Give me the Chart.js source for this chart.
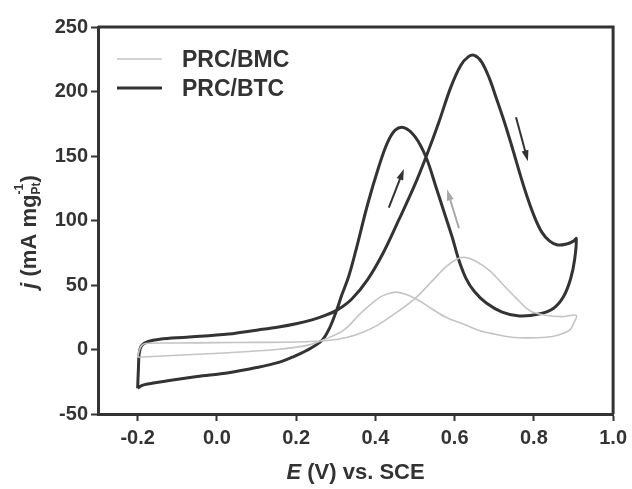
<!DOCTYPE html>
<html>
<head>
<meta charset="utf-8">
<script src="https://cdn.jsdelivr.net/npm/chart.js@4/dist/chart.umd.min.js"></script>
<style>
  html, body { margin: 0; padding: 0; background: #fff; }
  #wrap { width: 632px; height: 489px; position: relative; }
</style>
</head>
<body>
<div id="wrap"><canvas id="cv"></canvas></div>
<script>
(function () {
    "use strict";

    // tick labels
    var xTicks = [-0.2, 0.0, 0.2, 0.4, 0.6, 0.8, 1.0];
    var yTicks = [-50, 0, 50, 100, 150, 200, 250];

    var seriesNames = ["PRC/BMC", "PRC/BTC"];

    // PRC/BMC: forward scan then reverse scan (E in V, j in mA mg-1)
    var bmcE = [-0.2, -0.196, -0.19, -0.18, -0.1, 0.0, 0.1, 0.2, 0.28, 0.33, 0.37, 0.409, 0.45, 0.5, 0.54, 0.578, 0.605, 0.624, 0.65, 0.687, 0.72, 0.755, 0.79, 0.83, 0.87, 0.907,
                0.9, 0.89, 0.86, 0.83, 0.78, 0.745, 0.7, 0.66, 0.62, 0.578, 0.54, 0.51, 0.48, 0.452, 0.43, 0.409, 0.366, 0.32, 0.265, 0.225, 0.15, 0.03, -0.1, -0.2];
    var bmcJ = [-6, -1, 3, 4.7, 5, 5.3, 5.5, 5.8, 7, 9.5, 13.5, 19.5, 28, 39.5, 52, 64, 70, 71.5, 69, 61.5, 51, 40, 30, 26.5, 25.5, 26.5,
                20, 15, 11, 9.5, 9, 9.5, 12, 15, 20, 25, 32, 38, 42.5, 44.5, 43, 40, 29, 15, 7, 3, 0, -2.5, -4.5, -6];

    // PRC/BTC: forward scan then reverse scan
    var btcE = [-0.2, -0.198, -0.196, -0.19, -0.175, -0.144, -0.076, 0.03, 0.1, 0.156, 0.2, 0.24, 0.27, 0.303, 0.34, 0.38, 0.42, 0.46, 0.5, 0.53, 0.56, 0.59, 0.615, 0.635, 0.65, 0.668, 0.688, 0.704, 0.725, 0.745, 0.775, 0.8, 0.82, 0.84, 0.86, 0.885, 0.9, 0.907,
                0.903, 0.893, 0.875, 0.85, 0.813, 0.763, 0.72, 0.68, 0.65, 0.629, 0.61, 0.594, 0.575, 0.553, 0.528, 0.5, 0.472, 0.45, 0.43, 0.409, 0.38, 0.351, 0.333, 0.315, 0.303, 0.285, 0.265, 0.225, 0.19, 0.156, 0.1, 0.03, -0.05, -0.12, -0.17, -0.19, -0.2];
    var btcJ = [-30, -15, -3, 3, 6, 8, 9.5, 12, 15, 17.5, 20, 23, 26, 30.5, 39, 54, 75, 101, 128, 151, 176, 203, 220, 227, 228, 223, 210, 196, 177, 157, 126, 104, 91, 84, 81, 82, 84, 86,
                70, 55, 41, 32, 27.5, 26, 29, 36, 45, 55, 70, 87, 105, 126, 149, 165, 172, 170, 160, 142, 112, 77, 57, 42, 31, 17, 7, -1, -6, -10, -14, -18, -21, -24, -26.5, -28, -30];

    // scan direction arrows: start and end in data units
    var arrowFromE = [0.434, 0.611, 0.755];
    var arrowFromJ = [110, 94, 180];
    var arrowToE = [0.472, 0.581, 0.785];
    var arrowToJ = [140, 124, 146];
    var arrowDark = [true, false, true];

    var ink = "#333333";
    var lightInk = "#c4c4c4";
    var font = "'Liberation Sans', Arial, sans-serif";

    function pts(xs, ys) {
        return xs.map(function (x, i) { return { x: x, y: ys[i] }; });
    }

    var extras = {
        id: "extras",
        afterDatasetsDraw: function (chart) {
            var ctx = chart.ctx;
            var a = chart.chartArea;
            var xs = chart.scales.x;
            var ys = chart.scales.y;
            ctx.save();

            // frame on top and right
            ctx.strokeStyle = ink;
            ctx.lineWidth = 3;
            ctx.beginPath();
            ctx.moveTo(a.left, a.top);
            ctx.lineTo(a.right, a.top);
            ctx.lineTo(a.right, a.bottom);
            ctx.stroke();

            // arrows
            for (var i = 0; i < arrowFromE.length; i++) {
                var x0 = xs.getPixelForValue(arrowFromE[i]);
                var y0 = ys.getPixelForValue(arrowFromJ[i]);
                var x1 = xs.getPixelForValue(arrowToE[i]);
                var y1 = ys.getPixelForValue(arrowToJ[i]);
                var ang = Math.atan2(y1 - y0, x1 - x0);
                var col = arrowDark[i] ? ink : "#a8a8a8";
                ctx.strokeStyle = col;
                ctx.fillStyle = col;
                ctx.lineWidth = 2;
                ctx.beginPath();
                ctx.moveTo(x0, y0);
                ctx.lineTo(x1 - 8 * Math.cos(ang), y1 - 8 * Math.sin(ang));
                ctx.stroke();
                ctx.beginPath();
                ctx.moveTo(x1, y1);
                ctx.lineTo(x1 - 11 * Math.cos(ang) + 3.5 * Math.sin(ang), y1 - 11 * Math.sin(ang) - 3.5 * Math.cos(ang));
                ctx.lineTo(x1 - 11 * Math.cos(ang) - 3.5 * Math.sin(ang), y1 - 11 * Math.sin(ang) + 3.5 * Math.cos(ang));
                ctx.closePath();
                ctx.fill();
            }

            // legend
            var rows = [59, 88];
            chart.data.datasets.forEach(function (ds, k) {
                ctx.strokeStyle = ds.borderColor;
                ctx.lineWidth = ds.borderWidth;
                ctx.beginPath();
                ctx.moveTo(117, rows[k]);
                ctx.lineTo(162, rows[k]);
                ctx.stroke();
                ctx.fillStyle = ink;
                ctx.font = "bold 23px " + font;
                ctx.textAlign = "left";
                ctx.textBaseline = "middle";
                ctx.fillText(ds.label, 182, rows[k] + 2);
            });

            // x title: E (V) vs. SCE
            ctx.fillStyle = ink;
            ctx.textBaseline = "middle";
            ctx.textAlign = "left";
            var p1 = "E", p2 = " (V) vs. SCE";
            ctx.font = "italic bold 22px " + font;
            var w1 = ctx.measureText(p1).width;
            ctx.font = "bold 22px " + font;
            var w2 = ctx.measureText(p2).width;
            var sx = (a.left + a.right) / 2 - (w1 + w2) / 2;
            ctx.font = "italic bold 22px " + font;
            ctx.fillText(p1, sx, 473);
            ctx.font = "bold 22px " + font;
            ctx.fillText(p2, sx + w1, 473);

            // y title: j (mA mg_Pt^-1)
            var parts = [
                { t: "j", f: "italic bold 22px ", dy: 0 },
                { t: " (mA mg", f: "bold 22px ", dy: 0 },
                { t: "Pt", f: "bold 12px ", dy: 7 },
                { t: "-1", f: "bold 12px ", dy: -10 },
                { t: ")", f: "bold 22px ", dy: 0 }
            ];
            parts.forEach(function (p) {
                ctx.font = p.f + font;
                p.w = ctx.measureText(p.t).width;
            });
            var total = parts[0].w + parts[1].w + Math.max(parts[2].w, parts[3].w) + parts[4].w;
            ctx.translate(30, 232);
            ctx.rotate(-Math.PI / 2);
            var cx = -total / 2;
            parts.forEach(function (p, k) {
                ctx.font = p.f + font;
                ctx.fillText(p.t, cx, p.dy);
                if (k === 2) {
                    return;
                }
                if (k === 3) {
                    cx += Math.max(parts[2].w, parts[3].w);
                } else {
                    cx += p.w;
                }
            });
            ctx.restore();
        }
    };

    new Chart(document.getElementById("cv"), {
        type: "scatter",
        data: {
            datasets: [
                {
                    label: seriesNames[0],
                    data: pts(bmcE, bmcJ),
                    showLine: true,
                    borderColor: lightInk,
                    borderWidth: 1.6,
                    pointRadius: 0,
                    tension: 0.35,
                    fill: false
                },
                {
                    label: seriesNames[1],
                    data: pts(btcE, btcJ),
                    showLine: true,
                    borderColor: ink,
                    borderWidth: 3,
                    pointRadius: 0,
                    tension: 0.35,
                    fill: false
                }
            ]
        },
        options: {
            responsive: true,
            maintainAspectRatio: false,
            animation: false,
            layout: { padding: { top: 27, right: 18, left: 0, bottom: 0 } },
            plugins: {
                legend: { display: false },
                tooltip: { enabled: false }
            },
            scales: {
                x: {
                    type: "linear",
                    min: -0.3,
                    max: 1.0,
                    afterBuildTicks: function (s) {
                        s.ticks = xTicks.map(function (v) { return { value: v }; });
                    },
                    afterFit: function (s) { s.height = 75; },
                    border: { color: ink, width: 3 },
                    grid: { drawOnChartArea: false, drawTicks: true, tickLength: 7, color: ink, tickWidth: 2 },
                    ticks: {
                        color: ink,
                        padding: 5,
                        maxRotation: 0,
                        font: { family: font, size: 20, weight: "bold" },
                        callback: function (v) { return Number(v).toFixed(1); }
                    }
                },
                y: {
                    min: -50,
                    max: 250,
                    afterBuildTicks: function (s) {
                        s.ticks = yTicks.map(function (v) { return { value: v }; });
                    },
                    afterFit: function (s) { s.width = 98; },
                    border: { color: ink, width: 3 },
                    grid: { drawOnChartArea: false, drawTicks: true, tickLength: 7, color: ink, tickWidth: 2 },
                    ticks: {
                        color: ink,
                        padding: 3,
                        font: { family: font, size: 20, weight: "bold" }
                    }
                }
            }
        },
        plugins: [extras]
    });
})();
</script>
</body>
</html>
